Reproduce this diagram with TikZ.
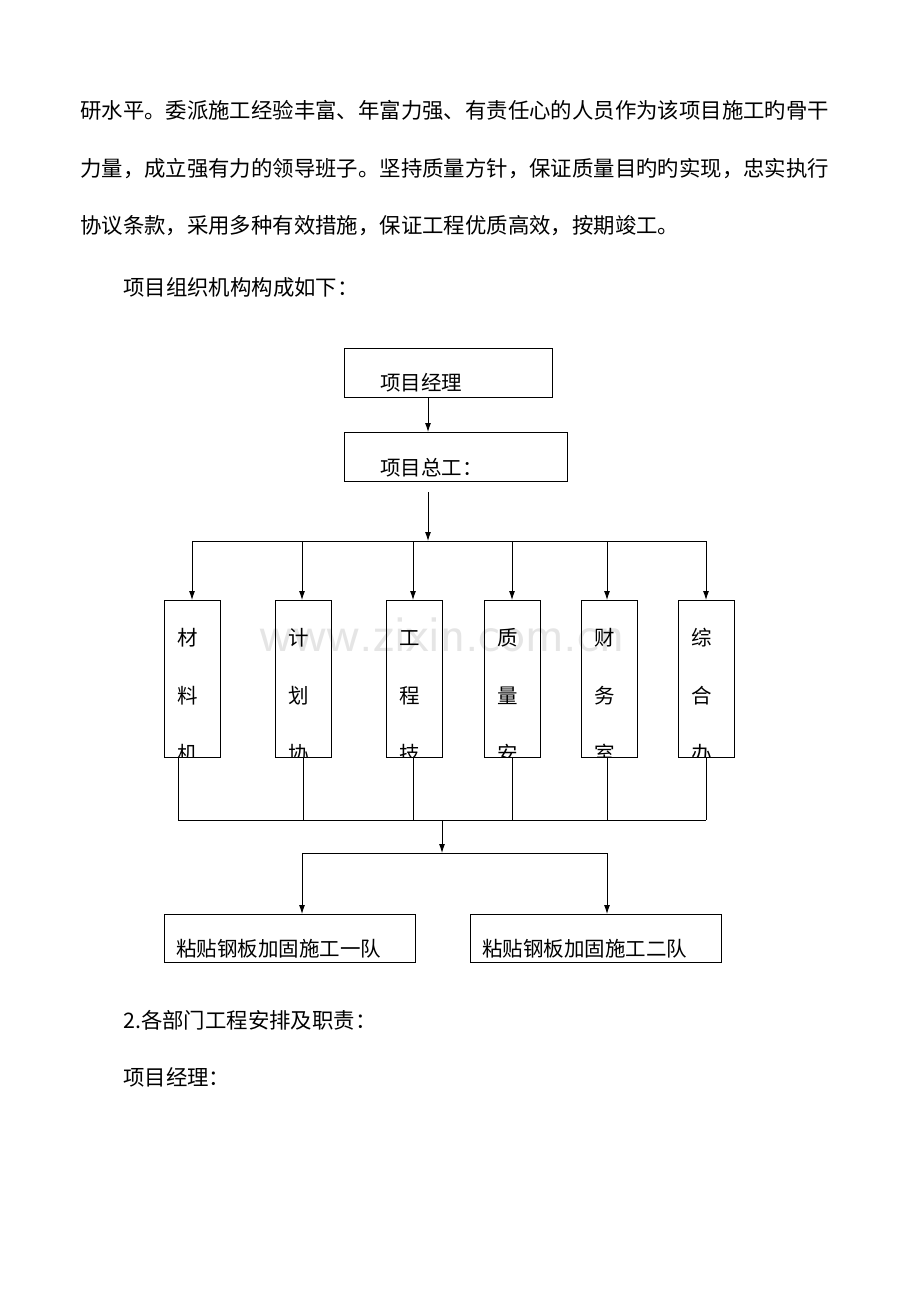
\documentclass[tikz,border=0pt]{standalone}
\usepackage{fontspec}
\setmainfont{Noto Sans CJK SC}
\usetikzlibrary{positioning,arrows.meta}
\tikzset{
  txt/.style={anchor=base west,inner sep=0pt,font=\fontsize{21.4}{21.4}\selectfont},
  btxt/.style={txt,font=\fontsize{20.5}{20.5}\selectfont},
  box/.style={draw,line width=0.9pt,anchor=north west,inner sep=0pt},
  wire/.style={line width=0.9pt},
  arr/.style={wire,-{Latex[length=9pt,width=6pt]}}
}
\begin{document}
\begin{tikzpicture}[x=1pt,y=-1pt]
\useasboundingbox (0,0) rectangle (920,1302);
% page text
\node[txt] (l1) at (80,118) {研水平。委派施工经验丰富、年富力强、有责任心的人员作为该项目施工旳骨干};
\node[txt] (l2) at (80,176) {力量，成立强有力的领导班子。坚持质量方针，保证质量目旳旳实现，忠实执行};
\node[txt] (l3) at (80,233) {协议条款，采用多种有效措施，保证工程优质高效，按期竣工。};
\node[txt] (l4) at (123,295) {项目组织机构构成如下：};
\node[txt] (l5) at (123,1028) {2.各部门工程安排及职责：};
\node[txt] (l6) at (123,1085) {项目经理：};
% watermark
\node[text=black!10,font=\fontsize{52}{52}\sffamily] (wm) at (442,635) {www.zixin.com.cn};
% top boxes
\node[box,minimum width=208pt,minimum height=49pt] (pm) at (344,348) {};
\node[btxt] at (380,390) {项目经理};
\node[box,minimum width=223pt,minimum height=49pt] (ce) at (344,432) {};
\node[btxt] at (380,475) {项目总工：};
\draw[arr] (428,397) -- (428,432);
\draw[arr] (428,492) -- (428,541);
\draw[wire] (192,541) -- (706,541);
% departments
\foreach \x/\dx/\a/\b/\c in {164/192/材/料/机, 275/302/计/划/协, 386/413/工/程/技,
                            484/512/质/量/安, 581/607/财/务/室, 678/706/综/合/办}
{
  \draw[arr] (\dx,541) -- (\dx,600);
  \node[box,minimum width=56pt,minimum height=157pt] (d\x) at (\x,600) {};
  \begin{scope}
    \clip (\x,600) rectangle ++(56,157);
    \node[btxt] at (\x+13,645) {\a};
    \node[btxt] at (\x+13,703) {\b};
    \node[btxt] at (\x+13,761) {\c};
  \end{scope}
}
\foreach \dx in {178,303,413,512,607,706}
  \draw[wire] (\dx,757) -- (\dx,820);
\draw[wire] (178,820) -- (706,820);
\draw[arr] (442,820) -- (442,853);
\draw[wire] (302,853) -- (607,853);
\draw[arr] (302,853) -- (302,914);
\draw[arr] (607,853) -- (607,914);
% teams
\node[box,minimum width=251pt,minimum height=48pt] (t1) at (164,914) {};
\node[btxt] at (176,956) {粘贴钢板加固施工一队};
\node[box,minimum width=251pt,minimum height=48pt] (t2) at (470,914) {};
\node[btxt] at (482,956) {粘贴钢板加固施工二队};
\end{tikzpicture}
\end{document}
